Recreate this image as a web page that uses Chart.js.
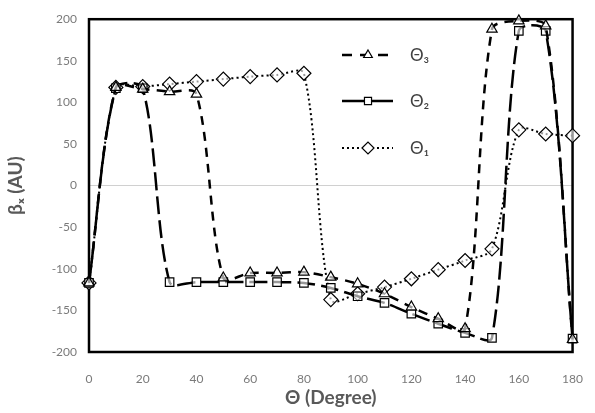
<!DOCTYPE html>
<html>
<head>
<meta charset="utf-8">
<script src="https://cdn.jsdelivr.net/npm/chart.js@4"></script>
<style>
  html, body { margin: 0; padding: 0; background: #fff; }
  #wrap { width: 595px; height: 413px; }
</style>
</head>
<body>
<div id="wrap"><canvas id="myChart" width="595" height="413"></canvas></div>
<script>
const angles = [0, 10, 20, 30, 40, 50, 60, 70, 80, 90, 100, 110, 120, 130, 140, 150, 160, 170, 180];
const theta3 = [-117, 118, 116, 113, 110, -111, -105, -105, -104, -110, -118, -130, -146, -160, -172, 188, 198, 192, -185];
const theta2 = [-117, 117, 117, -116, -116, -116, -116, -116, -117, -123, -133, -141, -154, -166, -177, -183, 186, 186, -184];
const theta1 = [-117, 118, 119, 122, 125, 128, 131, 133, 135, -137, -130, -122, -112, -101, -90, -76, 67, 62, 60];
const xTicks = [0, 20, 40, 60, 80, 100, 120, 140, 160, 180];
const yTicks = [200, 150, 100, 50, 0, -50, -100, -150, -200];

const ctx = document.getElementById('myChart');

function pts(vals) {
  return angles.map((a, i) => ({ x: a, y: vals[i] }));
}

const series = [
  { label: 'Θ₃', data: theta3, dash: [9, 7], width: 2.5, point: 'triangle', r: 6, legendDash: [10, 8] },
  { label: 'Θ₂', data: theta2, dash: [18, 6], width: 2.5, point: 'rect', r: 6, legendDash: [] },
  { label: 'Θ₁', data: theta1, dash: [2, 3], width: 2, point: 'rectRot', r: 7, legendDash: [2, 3] }
];

// black frame around the plot area
const frame = {
  id: 'frame',
  beforeDatasetsDraw(chart) {
    const a = chart.chartArea;
    const c = chart.ctx;
    c.save();
    c.strokeStyle = '#000';
    c.lineWidth = 2.5;
    c.strokeRect(a.left, a.top, a.right - a.left, a.bottom - a.top);
    c.restore();
  }
};

// legend with line sample + marker, like the original
const lineLegend = {
  id: 'lineLegend',
  afterDatasetsDraw(chart) {
    const c = chart.ctx;
    const rows = [55, 101, 148];
    c.save();
    chart.data.datasets.forEach((ds, i) => {
      const y = rows[i];
      const s = series[i];
      c.strokeStyle = '#000';
      c.lineWidth = ds.borderWidth;
      c.setLineDash(s.legendDash);
      c.beginPath();
      c.moveTo(342, y);
      c.lineTo(393, y);
      c.stroke();
      c.setLineDash([]);
      c.fillStyle = '#fff';
      c.strokeStyle = '#000';
      c.lineWidth = 1.2;
      Chart.helpers.drawPoint(c, {
        pointStyle: ds.pointStyle,
        radius: ds.pointRadius - 1,
        borderWidth: 1.2,
        rotation: 0
      }, 368, y);
      c.fillStyle = '#404040';
      c.font = '17px Lato';
      c.textBaseline = 'middle';
      c.fillText(ds.label, 410, y + 1);
    });
    c.restore();
  }
};

new Chart(ctx, {
  type: 'line',
  data: {
    datasets: series.map(s => ({
      label: s.label,
      data: pts(s.data),
      borderColor: '#000',
      borderWidth: s.width,
      borderDash: s.dash,
      pointStyle: s.point,
      pointRadius: s.r,
      pointBorderWidth: 1.2,
      pointBackgroundColor: 'rgba(255,255,255,0.6)',
      pointBorderColor: '#000',
      tension: 0.3,
      clip: false
    }))
  },
  options: {
    responsive: false,
    animation: false,
    layout: { padding: { top: 17, right: 15, left: 0, bottom: 0 } },
    plugins: {
      legend: { display: false },
      tooltip: { enabled: false }
    },
    scales: {
      x: {
        type: 'linear',
        min: 0,
        max: 180,
        afterBuildTicks: axis => { axis.ticks = xTicks.map(v => ({ value: v })); },
        afterFit: axis => { axis.height = 61; },
        grid: { display: false },
        border: { display: false },
        ticks: { color: '#7a7a7a', font: { family: 'Lato', size: 12 }, padding: 12, maxRotation: 0 },
        title: {
          display: true,
          text: 'Θ (Degree)',
          color: '#595959',
          font: { family: 'Lato', size: 19, weight: 'bold' },
          padding: { top: 2 }
        }
      },
      y: {
        min: -200,
        max: 200,
        afterBuildTicks: axis => { axis.ticks = yTicks.map(v => ({ value: v })); },
        afterFit: axis => { axis.width = 89; },
        grid: {
          color: c => (c.tick && c.tick.value === 0 ? '#d0d0d0' : 'transparent'),
          lineWidth: 1,
          drawTicks: false
        },
        border: { display: false },
        ticks: { color: '#7a7a7a', font: { family: 'Lato', size: 12 }, padding: 12 },
        title: {
          display: true,
          text: 'βₓ (AU)',
          color: '#595959',
          font: { family: 'Lato', size: 19, weight: 'bold' },
          padding: { bottom: 8 }
        }
      }
    }
  },
  plugins: [frame, lineLegend]
});
</script>
</body>
</html>
